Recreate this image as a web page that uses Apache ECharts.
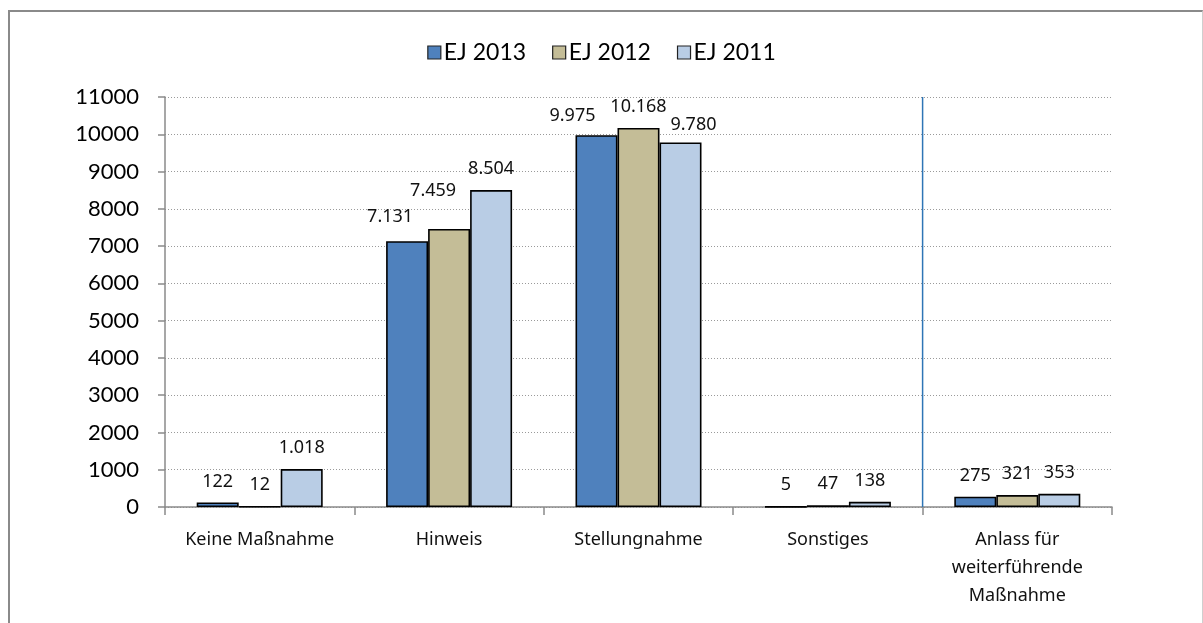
<!DOCTYPE html>
<html>
<head>
<meta charset="utf-8">
<script src="https://cdn.jsdelivr.net/npm/echarts@6/dist/echarts.min.js"></script>
<style>
  html, body { margin: 0; padding: 0; background: #fff; }
  #chart { position: absolute; left: 0; top: 0; width: 1203px; height: 623px; }
  #frame {
    position: absolute; left: 8px; top: 10px; width: 1192px; height: 640px;
    border-left: 2px solid #8a8a8a; border-top: 2px solid #8a8a8a;
    border-right: 1px solid #cfcfcf; pointer-events: none;
  }
</style>
</head>
<body>
<div id="chart"></div>
<div id="frame"></div>
<script>
// Categories and yearly counts
const categories = ['Keine Maßnahme', 'Hinweis', 'Stellungnahme', 'Sonstiges', 'Anlass für\nweiterführende\nMaßnahme'];
const seriesNames = ['EJ 2013', 'EJ 2012', 'EJ 2011'];
const ej2013 = [122, 7131, 9975, 5, 275];
const ej2012 = [12, 7459, 10168, 47, 321];
const ej2011 = [1018, 8504, 9780, 138, 353];
const yTicks = [0, 1000, 2000, 3000, 4000, 5000, 6000, 7000, 8000, 9000, 10000, 11000];

const colors = ['#4f81bd', '#c4bd97', '#b9cde5'];

// Separator before the last category, in category-slot units (0..5)
const separatorAt = 4;

// A few value labels sit beside their bars instead of straight above them
const labelShift = {
  'EJ 2013': { 1: [-17, -3], 2: [-24, 2] },
  'EJ 2012': { 1: [-16, -17] },
  'EJ 2011': { 2: [13, 3] }
};

const fmt = v => v >= 1000 ? String(v).replace(/\B(?=(\d{3})+(?!\d))/g, '.') : String(v);

function makeSeries(name, values, color) {
  return {
    name: name,
    type: 'bar',
    barWidth: 42,
    barGap: '0%',
    itemStyle: { color: color, borderColor: '#000', borderWidth: 1.6 },
    label: {
      show: true,
      position: 'top',
      distance: 12,
      color: '#111',
      fontFamily: 'Noto Sans',
      fontSize: 18,
      formatter: p => fmt(p.value)
    },
    data: values.map((v, i) => {
      const off = (labelShift[name] || {})[i];
      return off ? { value: v, label: { offset: off } } : v;
    })
  };
}

const chart = echarts.init(document.getElementById('chart'), null, { renderer: 'canvas' });
chart.setOption({
  animation: false,
  backgroundColor: '#fff',
  legend: {
    top: 36,
    left: 'center',
    itemWidth: 13,
    itemHeight: 13,
    itemGap: 26,
    icon: 'rect',
    itemStyle: { borderColor: '#222', borderWidth: 1.2 },
    textStyle: { fontFamily: 'Lato', fontSize: 23, color: '#000', padding: [0, 0, 0, -2] },
    data: seriesNames
  },
  grid: { left: 165, right: 91, top: 97, bottom: 116 },
  xAxis: [
    {
      type: 'category',
      data: categories,
      axisLine: { lineStyle: { color: '#8a8a8a', width: 1.5 } },
      axisTick: { show: true, length: 8, interval: 0, lineStyle: { color: '#8a8a8a', width: 1.5 } },
      axisLabel: {
        interval: 0,
        margin: 19,
        fontFamily: 'Noto Sans',
        fontSize: 18,
        lineHeight: 28,
        color: '#111'
      },
      splitLine: { show: false }
    },
    {
      // slot-unit axis used only to place the separator line
      type: 'value',
      min: 0,
      max: categories.length,
      show: false
    }
  ],
  yAxis: {
    type: 'value',
    min: 0,
    max: 11000,
    interval: 1000,
    axisLine: { show: true, lineStyle: { color: '#8a8a8a', width: 1.5 } },
    axisTick: { show: true, length: 7, lineStyle: { color: '#8a8a8a', width: 1.5 } },
    axisLabel: {
      margin: 26,
      fontFamily: 'Lato',
      fontSize: 22,
      color: '#000',
      formatter: v => yTicks.includes(v) ? String(v) : ''
    },
    splitLine: { lineStyle: { color: '#9a9a9a', type: [1, 2], width: 1 } }
  },
  series: [
    makeSeries(seriesNames[0], ej2013, colors[0]),
    makeSeries(seriesNames[1], ej2012, colors[1]),
    makeSeries(seriesNames[2], ej2011, colors[2]),
    {
      name: 'separator',
      type: 'line',
      xAxisIndex: 1,
      silent: true,
      showSymbol: false,
      lineStyle: { color: '#2e75b6', width: 1.5 },
      z: 1,
      data: [[separatorAt, 0], [separatorAt, yTicks[yTicks.length - 1]]]
    }
  ]
});
</script>
</body>
</html>
